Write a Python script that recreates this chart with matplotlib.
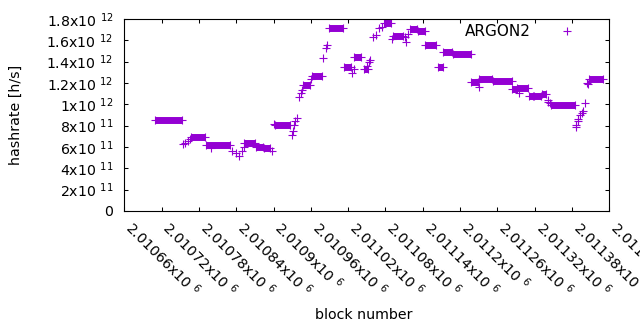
import matplotlib
matplotlib.use("Agg")
import matplotlib.pyplot as plt

plt.rcParams['font.family'] = ['DejaVu Sans']
plt.rcParams['mathtext.fontset'] = 'dejavusans'
plt.rcParams['font.size'] = 10.2

# runs of blocks with a constant hashrate: first block, last block, rate [h/s]
run_first = [2010709, 2010768, 2010791, 2010853, 2010872, 2010884, 2010902, 2010947,
             2010962, 2010989, 2011013, 2011030, 2011045, 2011077, 2011092, 2011120,
             2011132, 2011144, 2011164, 2011173, 2011188, 2011218, 2011231, 2011253,
             2011284, 2011292, 2011311, 2011319, 2011331, 2011347, 2011407]
run_last = [2010752, 2010789, 2010830, 2010871, 2010883, 2010895, 2010926, 2010959,
            2010978, 2011012, 2011025, 2011041, 2011052, 2011089, 2011108, 2011131,
            2011143, 2011162, 2011172, 2011187, 2011217, 2011229, 2011252, 2011283,
            2011291, 2011310, 2011318, 2011330, 2011339, 2011385, 2011430]
run_rate = [0.85e12, 0.69e12, 0.615e12, 0.635e12, 0.603e12, 0.595e12, 0.803e12, 1.18e12,
            1.266e12, 1.713e12, 1.347e12, 1.44e12, 1.33e12, 1.76e12, 1.644e12, 1.703e12,
            1.684e12, 1.553e12, 1.347e12, 1.488e12, 1.469e12, 1.205e12, 1.242e12, 1.216e12,
            1.14e12, 1.15e12, 1.082e12, 1.075e12, 1.095e12, 0.99e12, 1.235e12]

# single blocks between the runs
pt_block = [2010754, 2010758, 2010762, 2010765, 2010799, 2010834, 2010840, 2010844,
            2010849, 2010852, 2010898, 2010901, 2010929, 2010931, 2010933, 2010935,
            2010937, 2010941, 2010944, 2010946, 2010961, 2010980, 2010985, 2010986,
            2011027, 2011029, 2011051, 2011054, 2011055, 2011060, 2011065, 2011070,
            2011074, 2011091, 2011111, 2011113, 2011117, 2011230, 2011294, 2011341,
            2011342, 2011345, 2011386, 2011387, 2011389, 2011390, 2011393, 2011396,
            2011398, 2011401, 2011404, 2011405]
pt_rate = [0.625e12, 0.64e12, 0.66e12, 0.675e12, 0.59e12, 0.565e12, 0.54e12, 0.52e12,
           0.565e12, 0.60e12, 0.565e12, 0.82e12, 0.71e12, 0.75e12, 0.81e12, 0.84e12,
           0.87e12, 1.065e12, 1.11e12, 1.135e12, 1.2375e12, 1.43e12, 1.53e12, 1.555e12,
           1.29e12, 1.33e12, 1.362e12, 1.40e12, 1.416e12, 1.628e12, 1.653e12, 1.716e12,
           1.728e12, 1.6125e12, 1.628e12, 1.58e12, 1.66e12, 1.16e12, 1.11e12, 1.04e12,
           1.025e12, 1.01e12, 0.79e12, 0.81e12, 0.84e12, 0.86e12, 0.90e12, 0.92e12,
           0.935e12, 1.01e12, 1.203e12, 1.188e12]

x_ticks = [2010660, 2010720, 2010780, 2010840, 2010900, 2010960, 2011020,
           2011080, 2011140, 2011200, 2011260, 2011320, 2011380, 2011440]
x_labels = ["2.01066x10 $^{6}$", "2.01072x10 $^{6}$", "2.01078x10 $^{6}$",
            "2.01084x10 $^{6}$", "2.0109x10 $^{6}$", "2.01096x10 $^{6}$",
            "2.01102x10 $^{6}$", "2.01108x10 $^{6}$", "2.01114x10 $^{6}$",
            "2.0112x10 $^{6}$", "2.01126x10 $^{6}$", "2.01132x10 $^{6}$",
            "2.01138x10 $^{6}$", "2.01144x10 $^{6}$"]
y_ticks = [0, 2e11, 4e11, 6e11, 8e11, 1e12, 1.2e12, 1.4e12, 1.6e12, 1.8e12]
y_labels = ["0", "2x10 $^{11}$", "4x10 $^{11}$", "6x10 $^{11}$", "8x10 $^{11}$",
            "1x10 $^{12}$", "1.2x10 $^{12}$", "1.4x10 $^{12}$", "1.6x10 $^{12}$",
            "1.8x10 $^{12}$"]

purple = '#9400d3'

fig = plt.figure(figsize=(6.4, 3.3), dpi=100)
ax = fig.add_axes([124.3 / 640, 1 - 211 / 330, 485 / 640, 192 / 330])

# constant runs look like solid bars of overlapping '+' marks
lc = ax.hlines(run_rate, run_first, run_last, colors=purple, linewidth=5.0)
lc.set_capstyle('butt')
ax.plot(run_first + run_last, run_rate + run_rate, '+', color=purple, ms=5.2, mew=0.8)
ax.plot(pt_block, pt_rate, '+', color=purple, ms=5.2, mew=0.8, label='ARGON2')

ax.set_xlim(x_ticks[0], x_ticks[-1])
ax.set_ylim(0, 1.8e12)
ax.set_xticks(x_ticks)
ax.set_xticklabels(x_labels, rotation=-45, ha='left', va='baseline', rotation_mode='anchor')
ax.set_yticks(y_ticks)
ax.set_yticklabels(y_labels)
ax.tick_params(direction='in', length=3.2, width=0.75, top=True, right=True)
ax.tick_params(axis='y', pad=8)
ax.tick_params(axis='x', pad=13)
for s in ax.spines.values():
    s.set_linewidth(0.8)

ax.set_xlabel('block number')
ax.set_ylabel('hashrate [h/s]')
ax.xaxis.set_label_coords(0.494, -0.505)
ax.yaxis.set_label_coords(-0.21, 0.5)

ax.legend(loc='center right', bbox_to_anchor=(0.944, 0.935), frameon=False,
          markerfirst=False, numpoints=1, handlelength=2, handletextpad=1.35,
          borderpad=0, borderaxespad=0, fontsize=11)

fig.savefig('out.png', dpi=100)
